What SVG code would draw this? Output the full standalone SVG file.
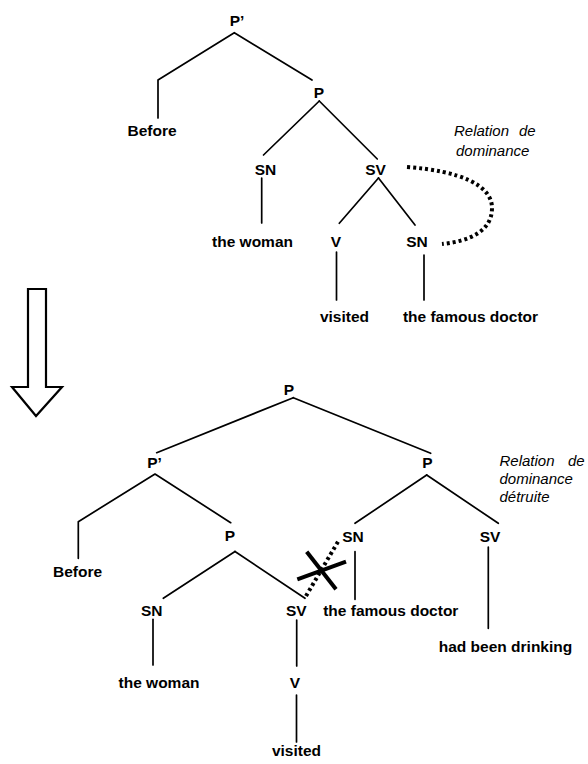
<svg xmlns="http://www.w3.org/2000/svg" width="588" height="764" viewBox="0 0 588 764">
<style>
.lbl{font-family:"Liberation Sans",Arial,sans-serif;font-weight:bold;font-size:15.5px;fill:#000;text-anchor:middle}
.note{font-family:"Liberation Sans",Arial,sans-serif;font-style:italic;font-size:15px;fill:#000}
.edge{stroke:#000;stroke-width:1.7;fill:none;stroke-linecap:round;stroke-linejoin:round}
.dot{stroke:#000;stroke-width:4;fill:none;stroke-dasharray:3 3}
.cross{stroke:#000;stroke-width:4;fill:none}
</style>
<rect width="588" height="764" fill="#fff"/>

<!-- Upper tree nodes -->
<g id="t1-Pprime"><text class="lbl" x="237" y="26">P’</text></g>
<g id="t1-before"><text class="lbl" x="152" y="136">Before</text></g>
<g id="t1-P"><text class="lbl" x="319" y="98">P</text></g>
<g id="t1-SN"><text class="lbl" x="265.5" y="174.5">SN</text></g>
<g id="t1-SV"><text class="lbl" x="375.5" y="174.5">SV</text></g>
<g id="t1-thewoman"><text class="lbl" x="252.5" y="247">the woman</text></g>
<g id="t1-V"><text class="lbl" x="336" y="246.5">V</text></g>
<g id="t1-SN2"><text class="lbl" x="417" y="246.5">SN</text></g>
<g id="t1-visited"><text class="lbl" x="344.5" y="321.5">visited</text></g>
<g id="t1-doctor"><text class="lbl" x="470.5" y="321.5">the famous doctor</text></g>
<g id="t1-note"><text class="note" y="136"><tspan x="454">Relation</tspan><tspan x="519">de</tspan></text><text class="note" x="456" y="156">dominance</text></g>

<!-- Arrow -->
<g id="arrow"><polygon points="28,289 46,289 46,387 62,387 36,416 12,387 28,387" fill="#fff" stroke="#000" stroke-width="2.2" stroke-linejoin="miter"/></g>

<!-- Lower tree nodes -->
<g id="t2-P"><text class="lbl" x="289" y="394.5">P</text></g>
<g id="t2-Pprime"><text class="lbl" x="154.5" y="467.5">P’</text></g>
<g id="t2-Pr"><text class="lbl" x="427.5" y="468">P</text></g>
<g id="t2-before"><text class="lbl" x="77.5" y="577">Before</text></g>
<g id="t2-Pl"><text class="lbl" x="230" y="541">P</text></g>
<g id="t2-SNr"><text class="lbl" x="353" y="541.5">SN</text></g>
<g id="t2-SVr"><text class="lbl" x="490" y="541.5">SV</text></g>
<g id="t2-SNl"><text class="lbl" x="151.7" y="615.5">SN</text></g>
<g id="t2-SVl"><text class="lbl" x="296.3" y="615.5">SV</text></g>
<g id="t2-doctor"><text class="lbl" x="390.8" y="615.5">the famous doctor</text></g>
<g id="t2-drinking"><text class="lbl" x="505.5" y="652">had been drinking</text></g>
<g id="t2-thewoman"><text class="lbl" x="159" y="688">the woman</text></g>
<g id="t2-V"><text class="lbl" x="295" y="688">V</text></g>
<g id="t2-visited"><text class="lbl" x="296.5" y="756">visited</text></g>
<g id="t2-note"><text class="note" y="466"><tspan x="499.5">Relation</tspan><tspan x="568">de</tspan></text><text class="note" x="499.5" y="484">dominance</text><text class="note" x="499.5" y="502">détruite</text></g>

<!-- Connectors -->
<g id="connectors">
<!-- upper -->
<polyline class="edge" points="158,118 158,80 234.3,32.7 312,80"/>
<line class="edge" x1="319.3" y1="101" x2="263.5" y2="155"/>
<line class="edge" x1="319.3" y1="101" x2="377.3" y2="159"/>
<line class="edge" x1="261.7" y1="178" x2="261.7" y2="223"/>
<line class="edge" x1="378.5" y1="178" x2="339.3" y2="223.3"/>
<line class="edge" x1="378.5" y1="178" x2="415" y2="225"/>
<line class="edge" x1="336.5" y1="252" x2="336.5" y2="300"/>
<line class="edge" x1="424" y1="255" x2="424" y2="300"/>
<path class="dot" d="M407,167 C460,171 492,185 492,208 C492,231 470,241 442,244"/>
<!-- lower -->
<line class="edge" x1="293.3" y1="397.7" x2="156.7" y2="452.7"/>
<line class="edge" x1="293.3" y1="397.7" x2="430.7" y2="453.3"/>
<polyline class="edge" points="78.3,558.3 78.3,521.7 155,474 230.7,522.7"/>
<line class="edge" x1="426.7" y1="475" x2="355" y2="523.3"/>
<line class="edge" x1="426.7" y1="475" x2="498.3" y2="523.3"/>
<line class="edge" x1="235" y1="551.5" x2="163.3" y2="598.3"/>
<line class="edge" x1="235" y1="551.5" x2="305" y2="598.3"/>
<line class="edge" x1="355" y1="551.7" x2="355" y2="599.3"/>
<line class="edge" x1="488.3" y1="547" x2="488.3" y2="628.3"/>
<line class="edge" x1="153" y1="619.3" x2="153" y2="665"/>
<line class="edge" x1="296.7" y1="620" x2="296.7" y2="666"/>
<line class="edge" x1="296.5" y1="695" x2="296.5" y2="742"/>
<line class="dot" x1="306" y1="596" x2="339" y2="540"/>
<line class="cross" x1="306.7" y1="551.7" x2="336" y2="589.3"/>
<line class="cross" x1="297.3" y1="579.3" x2="346" y2="561.7"/>
</g>
</svg>
